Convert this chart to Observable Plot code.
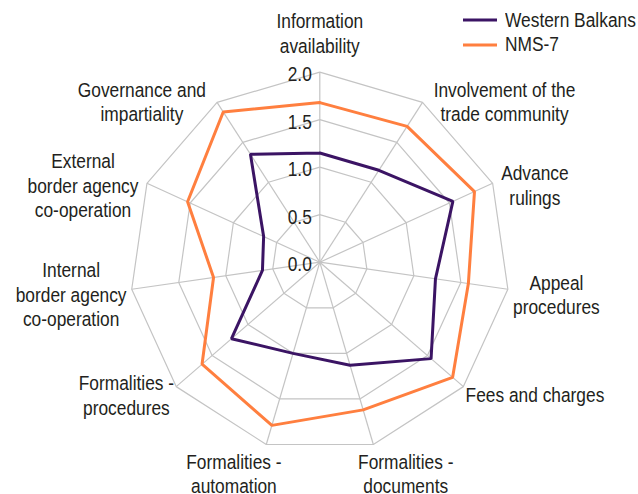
<!DOCTYPE html>
<html>
<head>
<meta charset="utf-8">
<script src="https://cdn.jsdelivr.net/npm/d3@7"></script>
<script src="https://cdn.jsdelivr.net/npm/@observablehq/plot@0.6"></script>
<style>
  html, body { margin: 0; padding: 0; background: #fff; }
  #wrap { position: relative; width: 638px; height: 494px; font-family: "Liberation Sans", Arial, sans-serif; }
  #legend { position: absolute; left: 463px; top: 8px; font-size: 19.5px; color: #231f20; white-space: nowrap; }
  #legend .row { display: flex; align-items: center; height: 24.5px; }
  #legend svg { margin-right: 8px; }
  #legend span { display: inline-block; transform: scaleX(0.89); transform-origin: left center; }
</style>
</head>
<body>
<div id="wrap"><div id="legend"></div></div>
<script>
// ---- data ----
const categories = [
  "Information\navailability",
  "Involvement of the\ntrade community",
  "Advance\nrulings",
  "Appeal\nprocedures",
  "Fees and charges",
  "Formalities -\ndocuments",
  "Formalities -\nautomation",
  "Formalities -\nprocedures",
  "Internal\nborder agency\nco-operation",
  "External\nborder agency\nco-operation",
  "Governance and\nimpartiality"
];
const westernBalkans = [1.15, 1.15, 1.54, 1.23, 1.55, 1.13, 1.00, 1.23, 0.61, 0.65, 1.35];
const nms7 = [1.68, 1.70, 1.79, 1.58, 1.85, 1.62, 1.79, 1.64, 1.13, 1.53, 1.88];
const seriesNames = ["Western Balkans", "NMS-7"];
const seriesColors = ["#3b1464", "#ff7f3f"];
const tickValues = [0, 0.5, 1.0, 1.5, 2.0];
const tickLabels = ["0.0", "0.5", "1.0", "1.5", "2.0"];
const rMax = 2.0;

// ---- layout ----
const W = 638, H = 494;
const cx = 319.3, cy = 261.7, k = 95; // px per unit
const FS = 19.5, SX = 0.89;
const FONT = `${FS}px 'Liberation Sans', Arial, sans-serif`;
const LH = 24.5;
const n = categories.length;
const ang = i => (2 * Math.PI * i) / n;
const polar = (r, i) => ({x: r * Math.sin(ang(i)), y: r * Math.cos(ang(i))});

// rings
const rings = [];
for (const t of tickValues.filter(v => v > 0)) {
  for (let i = 0; i <= n; i++) rings.push({level: t, ...polar(t, i % n)});
}
// spokes
const spokes = categories.map((c, i) => ({x1: 0, y1: 0, x2: polar(rMax, i).x, y2: polar(rMax, i).y}));
// series
const series = [];
[westernBalkans, nms7].forEach((vals, s) => {
  for (let i = 0; i <= n; i++) series.push({name: seriesNames[s], ...polar(vals[i % n], i % n)});
});

// labels
const ctx = document.createElement("canvas").getContext("2d");
ctx.font = FONT;
const labels = categories.map((c, i) => {
  const lines = c.split("\n");
  const w = Math.max(...lines.map(l => ctx.measureText(l).width * SX));
  const h = lines.length * LH;
  const s = Math.sin(ang(i)), co = Math.cos(ang(i));
  let dx, dy;
  if (Math.abs(s) > 0.4) {
    dx = Math.sign(s) * (w / 2 + 6 + 6 * co);
    dy = 4 - co * 6;
  } else {
    dx = s * 115;
    dy = -co * (h / 2 + 10 + 5 * co);
  }
  const e = polar(rMax, i);
  return {text: c, x: e.x + dx / k, y: e.y - dy / k};
});

const ticks = tickValues.map((v, i) => ({y: v, label: tickLabels[i]}));

const chart = Plot.plot({
  width: W, height: H,
  margin: 0,
  x: {domain: [-cx / k, (W - cx) / k], range: [0, W], axis: null},
  y: {domain: [-(H - cy) / k, cy / k], range: [H, 0], axis: null},
  style: {fontFamily: "'Liberation Sans', Arial, sans-serif", background: "#fff", overflow: "visible"},
  marks: [
    Plot.link(spokes, {x1: "x1", y1: "y1", x2: "x2", y2: "y2", stroke: "#c4c4c4", strokeWidth: 1.2}),
    Plot.line(rings, {x: "x", y: "y", z: "level", stroke: "#c4c4c4", strokeWidth: 1.2, curve: "linear"}),
    Plot.line(series, {x: "x", y: "y", z: "name", stroke: d => seriesColors[seriesNames.indexOf(d.name)], strokeWidth: 3, strokeLinejoin: "miter", curve: "linear"}),
    Plot.text(ticks, {x: 0, y: "y", text: "label", textAnchor: "end", dx: -8, dy: 3, fontSize: FS, fill: "#231f20"}),
    Plot.text(labels, {x: "x", y: "y", text: "text", textAnchor: "middle", lineAnchor: "middle", lineHeight: LH / FS, fontSize: FS, fill: "#231f20"})
  ]
});
// condense the text horizontally to match the narrow typeface
d3.select(chart).selectAll("text").each(function () {
  const t = this.getAttribute("transform") || "";
  this.setAttribute("transform", t + ` scale(${SX},1)`);
});
const wrap = document.getElementById("wrap");
wrap.insertBefore(chart, wrap.firstChild);

// legend
const legend = document.getElementById("legend");
seriesNames.forEach((name, i) => {
  const row = document.createElement("div");
  row.className = "row";
  row.innerHTML = `<svg width="34" height="6"><line x1="0" y1="3" x2="34" y2="3" stroke="${seriesColors[i]}" stroke-width="3"/></svg><span>${name}</span>`;
  legend.appendChild(row);
});
</script>
</body>
</html>
